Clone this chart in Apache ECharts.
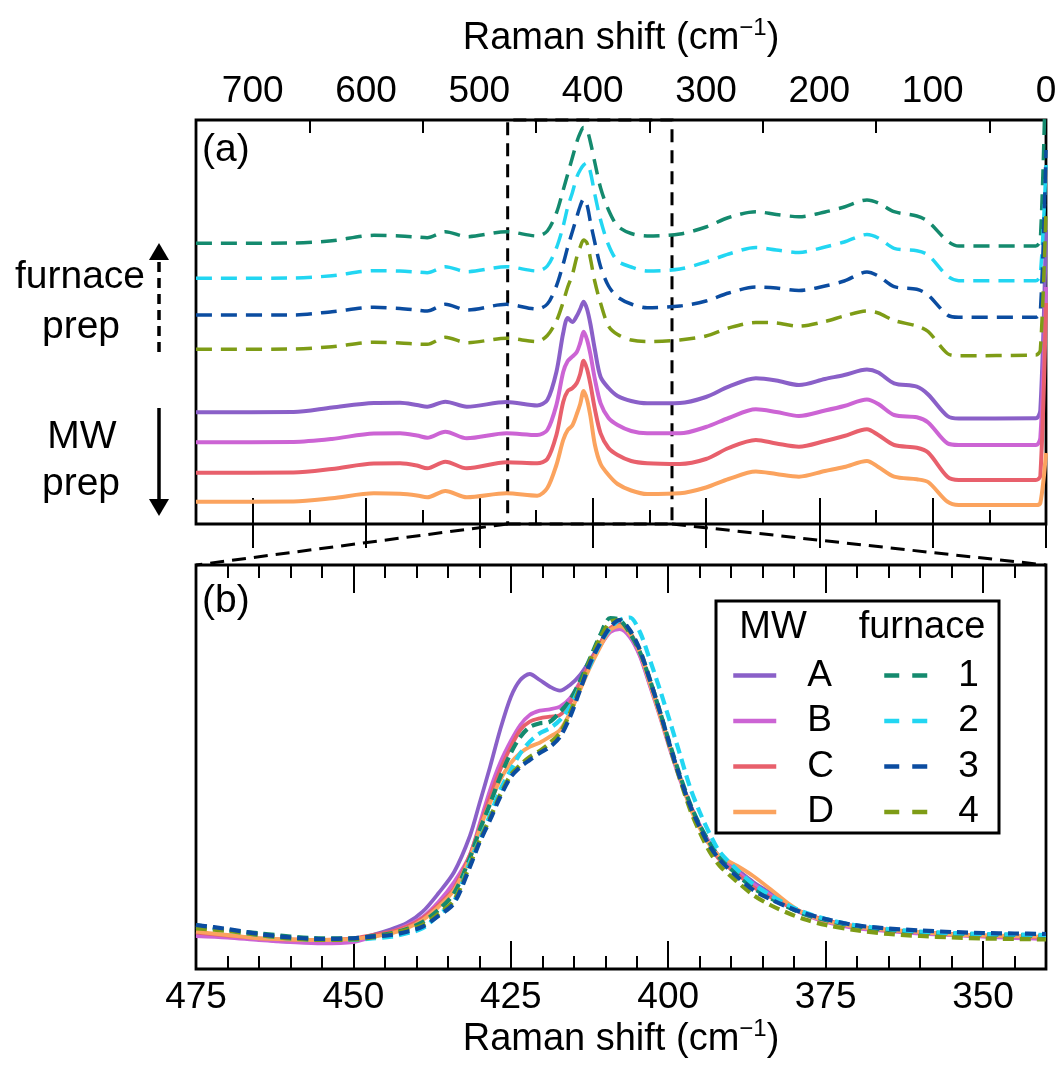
<!DOCTYPE html>
<html><head><meta charset="utf-8">
<script src="https://cdn.jsdelivr.net/npm/echarts@6.0.0/dist/echarts.min.js"></script>
<style>html,body{margin:0;padding:0;background:#fff}#c{width:1060px;height:1078px}</style>
</head><body><div id="c"></div>
<script>
// ---------- panel (a): wide range, offset spectra (arbitrary units) ----------
const xsA = [750, 664, 630, 593, 570, 555, 546, 530, 511, 476, 449, 440, 432, 426, 422, 418, 414, 411, 408, 405, 402, 398, 393, 386, 378, 366, 352, 323, 300, 280, 256, 238, 218, 195, 178, 158, 148, 134, 114, 104, 87, 77, 9, 5, 0];
const aMW_A = [111.7, 112, 116.5, 121, 121.3, 119, 117.3, 122.3, 117.3, 122, 118.5, 124, 152, 191, 206, 202, 208, 215, 222.3, 215, 200, 174, 147, 136, 128, 123, 120.7, 121, 127, 137.3, 145.7, 143.5, 139, 145, 149, 154.5, 151.5, 140.7, 137.3, 129.5, 108, 105.5, 105.7, 114, 294];
const aMW_B = [81.7, 82, 85, 90.5, 90.7, 88.5, 86.3, 92.3, 85.7, 90.7, 89, 94, 119, 152, 163, 167.3, 172, 181, 192.3, 184.4, 169.8, 144.6, 120.7, 106, 99, 93, 90.7, 90.7, 97, 106, 114.7, 112, 108, 113.5, 118, 124.5, 120, 109, 106.7, 101.5, 80.7, 79, 79, 86, 237];
const aMW_C = [51.3, 51.5, 55, 60.5, 60.7, 58.5, 55.7, 62.3, 55.7, 61.7, 60.7, 65, 89, 122, 133, 135.7, 141, 150, 163.3, 155, 139.8, 114.6, 90.7, 76, 69, 63, 60.7, 60, 65, 76, 84, 80.5, 77.3, 83, 88, 94.7, 89, 79, 76.3, 71.5, 47.3, 44, 44, 48, 221];
const aMW_D = [22.3, 22.5, 25.7, 30.7, 30.2, 28.5, 26.7, 33, 26.7, 30.7, 28.3, 36, 59, 84, 94, 98.5, 110, 120, 133, 124.6, 108, 79, 60, 49, 40, 33.5, 30, 30.7, 36.5, 45, 52.5, 50, 47.3, 53, 57, 63, 57, 47.3, 44.7, 42, 22.3, 19, 19, 21, 71];
const aF1 = [280.7, 281, 283.3, 288.7, 288, 287, 286.3, 292.3, 287.3, 292.3, 288, 293, 311, 334, 350, 366, 382, 391, 396.5, 394, 382, 361, 336, 314, 298, 290.5, 288, 290, 297, 306.5, 312.3, 309.5, 307.3, 312, 317, 324, 321, 312.3, 308, 302.5, 283, 278, 278, 284, 470];
const aF2 = [245.7, 246, 248.3, 253.3, 253, 252, 251.3, 257.3, 252.3, 257.3, 253, 258, 276, 298, 317, 331, 347, 354, 359, 361, 352, 329, 304, 279, 263, 257, 253, 255, 262, 270, 276.5, 274, 271.5, 277, 282, 289.5, 286, 275.7, 273.3, 269, 248, 243.3, 243.3, 249, 359];
const aF3 = [209, 209, 212.3, 216.7, 215.5, 214, 213, 219.7, 214, 219.7, 215, 220, 238, 260, 277, 292, 307, 318, 325, 319, 302, 281, 257.3, 238, 227, 220, 216.3, 218, 223, 231, 237, 236, 233.5, 238, 243, 252, 248, 237.3, 234.7, 229, 209, 206.7, 206.7, 212, 374];
const aF4 = [174.7, 175, 177.3, 181.7, 181, 180, 179.7, 186.7, 181.3, 185.7, 182.5, 188.5, 203, 222, 237, 249, 267, 277, 284, 281, 265.5, 242, 220.7, 198, 189.5, 184, 182.5, 184, 188, 196, 201.5, 201, 197.8, 202.5, 208, 213, 211, 203.5, 198, 192.5, 170.5, 168.3, 169, 174, 314];

// ---------- panel (b): zoom 475-340 cm-1, overlaid spectra ----------
const xsB = [475, 470, 465, 460, 455, 450, 447, 444, 441.5, 439, 436.5, 434, 431.5, 430, 428.3, 426.7, 425, 423.5, 422, 420.4, 418.8, 417.2, 415.6, 414, 412.4, 410.8, 409.2, 407.7, 406.1, 404.5, 402.9, 401.3, 399.7, 398.1, 396.5, 395, 393.4, 391.8, 389, 386.5, 383.8, 381, 378.5, 375, 370.5, 365, 360, 355, 350, 345, 340];
const bMW_A = [34, 32.3, 29.7, 27.3, 27.3, 29.7, 34, 39.7, 46, 57.3, 75.7, 97, 133, 165, 202, 239, 272, 289, 295, 289, 282.3, 278.3, 284, 294, 309, 325.7, 340.7, 342, 333, 314, 284, 254, 221, 191, 164, 144, 126, 112, 99, 87, 76, 64, 56, 48, 42, 39, 36.5, 34.5, 33, 31.5, 30.7];
const bMW_B = [33, 31.5, 29, 27, 25.7, 27, 32, 37, 43.5, 52, 67, 87, 114, 144, 179, 206, 228, 244, 254, 258.3, 259.7, 262.3, 270.7, 287, 306, 323, 337, 340, 332, 313, 283, 252, 219, 189, 163, 143, 125, 111, 97, 85, 74, 63, 55, 47, 41, 38, 35.5, 34, 32.5, 31, 30];
const bMW_C = [36.3, 33.5, 30.7, 29.5, 29, 30.7, 34, 37.3, 42.5, 51, 64, 81, 114, 141, 172, 199, 222, 239, 247.3, 250.7, 252.3, 254, 266, 286, 306, 326, 341, 345, 337, 317, 287, 255, 222, 191, 164, 143, 124, 109, 95, 82, 72, 63, 56, 49, 43, 39, 37, 35, 33.5, 32.5, 31.7];
const bMW_D = [37.3, 34, 30.7, 29.5, 29, 30, 32.3, 35.7, 40.7, 49, 62, 79, 111, 139, 166, 189, 206, 216, 222.3, 226.3, 232.3, 239, 256, 279, 302, 322, 339, 343, 335, 316, 285, 253, 221, 191, 161, 141, 124, 113, 103, 93, 80, 66, 56, 48, 42.5, 39, 37, 34.5, 33.5, 33, 32.3];
const bF1 = [44, 39, 35.7, 32.5, 30.7, 30.7, 33, 35.7, 40, 47, 59, 76, 111, 138, 165, 192, 216, 232, 242, 245.7, 247.3, 257, 269, 288, 311, 334, 351, 349, 336, 317, 289, 257, 224, 193, 165, 144, 126, 111, 94, 81, 71, 62, 55, 49, 43, 39, 37, 35.5, 34.5, 34, 33];
const bF2 = [42.3, 38.5, 34, 30.5, 29, 29, 30.5, 32.3, 35.7, 40.7, 54, 68, 107, 129, 154, 179, 199, 215.7, 227.3, 235.7, 240.7, 249, 262.3, 282.3, 304, 325.7, 340.7, 349, 351.5, 337, 309, 279, 247, 214, 181, 157, 135, 117, 99, 85, 74, 64, 57, 50, 44, 40, 37.5, 36, 35, 34.5, 34];
const bF3 = [44, 40, 35, 31.5, 30, 30.7, 32.3, 34, 37.3, 42.3, 53, 66, 102, 126, 149, 172, 192, 202, 209, 216, 222, 232, 252, 279, 306, 326, 342, 349, 339, 319, 289, 257, 223, 191, 163, 142, 123, 109, 92, 79, 70, 62, 56, 50, 44, 40.5, 38.5, 37, 36, 35.5, 35];
const bF4 = [40.7, 38, 34, 30.5, 29, 29.5, 31.5, 35, 39, 44, 55, 69, 104, 128, 151, 174, 194, 204, 212, 218, 226, 236, 256, 282, 309, 331, 347, 349, 338, 319, 289, 257, 221, 189, 159, 137, 117, 103, 87, 74, 64, 56, 50, 44, 39, 35, 33, 31.5, 30.5, 30, 29.5];

// ---------- names, ticks ----------
const mwNames = ['A', 'B', 'C', 'D'];
const furNames = ['1', '2', '3', '4'];
const majorTicksA = [0, 100, 200, 300, 400, 500, 600, 700];
const minorTicksA = [50, 150, 250, 350, 450, 550, 650];
const majorTicksB = [350, 375, 400, 425, 450, 475];
const minorTicksB = [345, 355, 360, 365, 370, 380, 385, 390, 395, 405, 410, 415, 420, 430, 435, 440, 445, 455, 460, 465, 470];
const zoomRange = [475, 330];

const mwColors = ['#8a60c8', '#cc64d4', '#e8606c', '#fba35e'];
const furColors = ['#148a6e', '#22d6f2', '#0b4ca0', '#7e9c16'];

const FONT = "'Liberation Sans', Arial, sans-serif";

const chart = echarts.init(document.getElementById('c'), null, {renderer: 'canvas'});

function xAx(grid, pos, min, max, ticks, len, withLabels, name, nameGap) {
  const ax = {
    type: 'value', gridIndex: grid, position: pos, min: min, max: max, inverse: true,
    axisLine: {show: false}, splitLine: {show: false},
    axisTick: {show: true, inside: true, length: len, customValues: ticks, lineStyle: {color: '#000', width: 2}},
    axisLabel: withLabels ? {show: true, customValues: ticks, fontSize: 37, fontFamily: FONT, color: '#000', margin: 10} : {show: false}
  };
  if (name) {
    ax.name = '{m|Raman shift (cm}{s|\u22121}{m|)}';
    ax.nameLocation = 'middle';
    ax.nameGap = nameGap;
    ax.nameTextStyle = {
      rich: {
        m: {fontSize: 38, fontFamily: FONT, color: '#000', lineHeight: 46},
        s: {fontSize: 24, fontFamily: FONT, color: '#000', verticalAlign: 'top', lineHeight: 18}
      }
    };
  }
  return ax;
}

const series = [];
const aMW = [aMW_A, aMW_B, aMW_C, aMW_D];
const aF = [aF1, aF2, aF3, aF4];
const bMW = [bMW_A, bMW_B, bMW_C, bMW_D];
const bF = [bF1, bF2, bF3, bF4];

function mk(name, xs, ys, color, dashed, grid, width, dash) {
  return {
    type: 'line', name: name, xAxisIndex: grid === 0 ? 0 : 4, yAxisIndex: grid,
    data: xs.map((x, i) => [x, ys[i]]),
    symbol: 'none', showSymbol: false, smooth: 0.3, clip: true, animation: false,
    lineStyle: {color: color, width: width, type: dashed ? dash : 'solid', cap: 'butt', join: 'round'},
    itemStyle: {color: color}, z: 3
  };
}
mwNames.forEach((n, i) => series.push(mk(n, xsA, aMW[i], mwColors[i], false, 0, 4)));
furNames.forEach((n, i) => series.push(mk(n, xsA, aF[i], furColors[i], true, 0, 3.5, [16, 9])));
mwNames.forEach((n, i) => series.push(mk(n, xsB, bMW[i], mwColors[i], false, 1, 3.8)));
[0, 1, 3, 2].forEach(i => series.push(mk(furNames[i], xsB, bF[i], furColors[i], true, 1, 4.2, [11, 6])));

// zoom box in panel (a)
series.push({
  type: 'line', xAxisIndex: 0, yAxisIndex: 0, data: [], z: 10, silent: true,
  markArea: {
    silent: true,
    itemStyle: {color: 'rgba(0,0,0,0)', borderColor: '#000', borderWidth: 3, borderType: [13, 8]},
    data: [[{xAxis: zoomRange[0], yAxis: 0}, {xAxis: zoomRange[1], yAxis: 404}]]
  }
});

const legendBase = {
  orient: 'vertical', top: 652, itemWidth: 43, itemHeight: 14, itemGap: 8.5,
  itemStyle: {opacity: 0},
  textStyle: {fontSize: 37, fontFamily: FONT, color: '#000', padding: [0, 0, 0, 26], lineHeight: 36},
  selectedMode: false
};

chart.setOption({
  animation: false,
  backgroundColor: '#fff',
  grid: [
    {left: 196, top: 120, width: 850, height: 404, show: true, borderColor: '#000', borderWidth: 2.8, backgroundColor: 'rgba(0,0,0,0)'},
    {left: 196, top: 565, width: 850, height: 404, show: true, borderColor: '#000', borderWidth: 2.8, backgroundColor: 'rgba(0,0,0,0)'}
  ],
  xAxis: [
    xAx(0, 'top', 0, 750, majorTicksA, 24, true, true, 58),
    xAx(0, 'top', 0, 750, minorTicksA, 13, false),
    xAx(0, 'bottom', 0, 750, majorTicksA, 26, false),
    xAx(0, 'bottom', 0, 750, minorTicksA, 14, false),
    xAx(1, 'bottom', 340, 475, majorTicksB, 28, true, true, 44),
    xAx(1, 'bottom', 340, 475, minorTicksB, 13, false),
    xAx(1, 'top', 340, 475, majorTicksB, 28, false),
    xAx(1, 'top', 340, 475, minorTicksB, 13, false)
  ],
  yAxis: [
    {type: 'value', gridIndex: 0, min: 0, max: 404, show: false},
    {type: 'value', gridIndex: 1, min: 0, max: 404, show: false}
  ],
  legend: [
    Object.assign({}, legendBase, {left: 726, data: mwNames, lineStyle: {width: 4.5}}),
    Object.assign({}, legendBase, {left: 877, lineStyle: {width: 4.5},
      data: furNames.map(n => ({name: n, lineStyle: {width: 4.5, type: [15, 13]}}))})
  ],
  series: series
});

// decorations positioned through the axes
const pL = chart.convertToPixel({xAxisIndex: 0, yAxisIndex: 0}, [zoomRange[0], 0]);
const pR = chart.convertToPixel({xAxisIndex: 0, yAxisIndex: 0}, [zoomRange[1], 0]);
const qL = chart.convertToPixel({xAxisIndex: 4, yAxisIndex: 1}, [475, 404]);
const qR = chart.convertToPixel({xAxisIndex: 4, yAxisIndex: 1}, [340, 404]);

function txt(t, x, y, size, align) {
  return {type: 'text', x: x, y: y, z: 20, style: {text: t, font: size + 'px ' + FONT, fill: '#000', align: align || 'center', verticalAlign: 'middle'}};
}
const dashStyle = {stroke: '#000', lineWidth: 3, lineDash: [14, 8]};
chart.setOption({
  graphic: [
    {type: 'line', z: 20, shape: {x1: pL[0], y1: pL[1], x2: qL[0], y2: qL[1]}, style: dashStyle},
    {type: 'line', z: 20, shape: {x1: pR[0], y1: pR[1], x2: qR[0], y2: qR[1]}, style: dashStyle},
    txt('(a)', 202, 150, 39, 'left'),
    txt('(b)', 202, 601, 39, 'left'),
    txt('furnace', 80, 277, 39),
    txt('prep', 81, 327, 39),
    txt('MW', 82, 437, 39),
    txt('prep', 81, 484, 39),
    {type: 'line', z: 20, shape: {x1: 159, y1: 352, x2: 159, y2: 257}, style: {stroke: '#000', lineWidth: 3.5, lineDash: [10, 6]}},
    {type: 'polygon', z: 20, shape: {points: [[159, 243], [149, 260], [169, 260]]}, style: {fill: '#000'}},
    {type: 'line', z: 20, shape: {x1: 159, y1: 408, x2: 159, y2: 503}, style: {stroke: '#000', lineWidth: 3.5}},
    {type: 'polygon', z: 20, shape: {points: [[159, 516], [149, 499], [169, 499]]}, style: {fill: '#000'}},
    {type: 'rect', z: 1, shape: {x: 716, y: 601, width: 283, height: 232}, style: {fill: 'rgba(0,0,0,0)', stroke: '#000', lineWidth: 3}},
    txt('MW', 773, 628, 38),
    txt('furnace', 922, 628, 38)
  ]
});
</script>
</body></html>
